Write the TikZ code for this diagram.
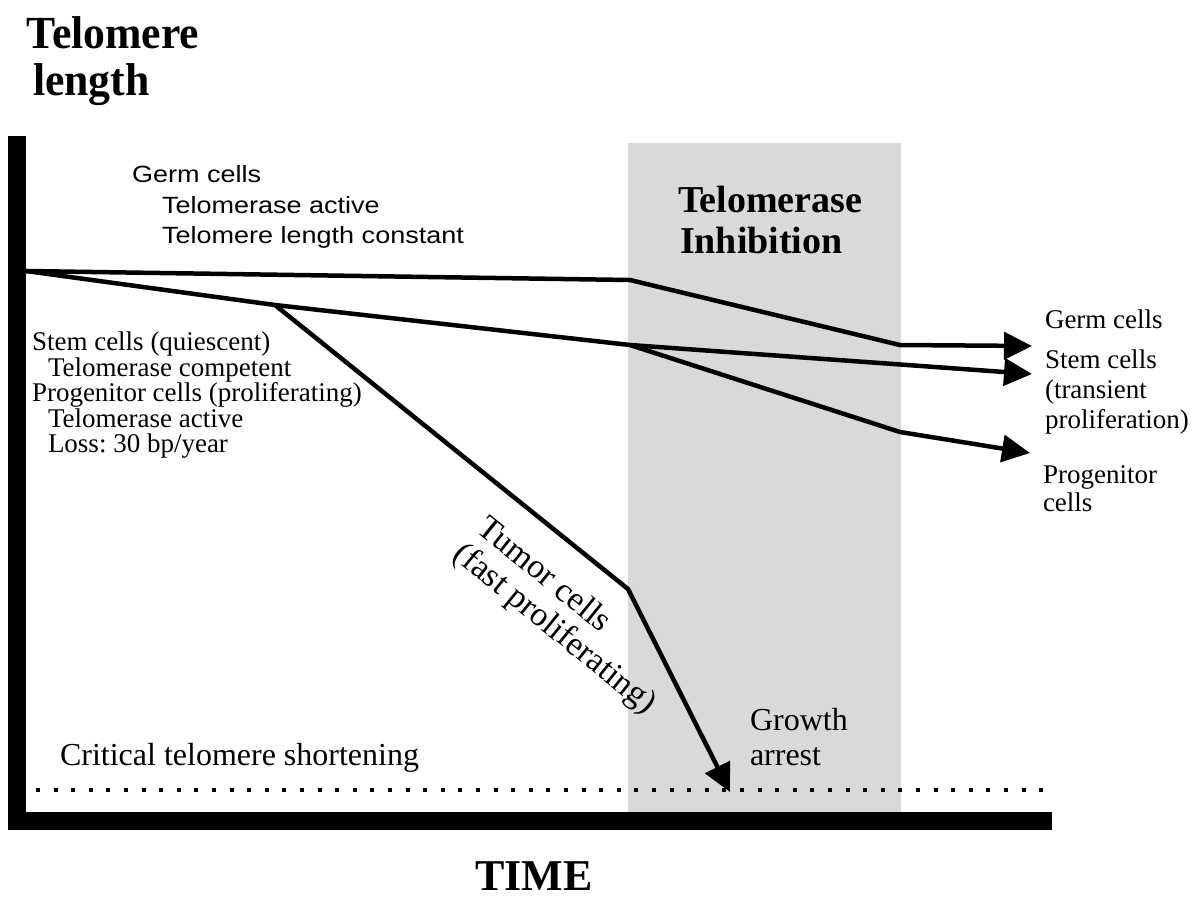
\documentclass[tikz,border=0pt]{standalone}
\usepackage{fontspec}
\setmainfont{Liberation Serif}
\newfontfamily\sansfnt[FakeStretch=1.15]{Liberation Sans}
\newfontfamily\headfnt[FakeStretch=0.95]{Liberation Serif}
\usetikzlibrary{arrows.meta}
\frenchspacing

\begin{document}
\begin{tikzpicture}[x=1pt,y=-1pt,
  curve/.style={line width=4.5pt, line join=round},
  arrowed/.style={curve, -{Triangle[length=28pt,width=27pt]}},
  txt/.style={anchor=base west, inner sep=0pt, outer sep=0pt},
  serif/.style={txt, font=\fontsize{27}{27}\selectfont},
  bigserif/.style={txt, font=\fontsize{32}{32}\selectfont},
  tumorfont/.style={inner sep=0pt, outer sep=0pt, rotate=-39, align=left,
                    font=\fontsize{34}{35}\selectfont},
  sans/.style={txt, font=\sansfnt\fontsize{23.5}{24}\selectfont},
  head/.style={txt, font=\bfseries\fontsize{38}{38}\selectfont},
  axistitle/.style={txt, font=\headfnt\bfseries\fontsize{46}{46}\selectfont},
]
\useasboundingbox (0,0) rectangle (1195,898);

% shaded treatment window
\fill[black!15] (628,143) rectangle (901,815);

% critical length threshold
\coordinate (dotL) at (36,790);
\coordinate (dotR) at (1050,790);
\draw[line width=4pt, dash pattern=on 4pt off 13.6pt] (dotL) -- (dotR);

% axes
\fill (8,136) rectangle (26,830);
\fill (8,812) rectangle (1052,830);

% branch points of the telomere curves
\coordinate (orig) at (26,271);
\coordinate (g1) at (630,280);
\coordinate (g2) at (900,345);
\coordinate (gEnd) at (1032,346);
\coordinate (s1) at (275,305);
\coordinate (s2) at (630,345);
\coordinate (sEnd) at (1032,374);
\coordinate (p1) at (900,432);
\coordinate (pEnd) at (1030,453);
\coordinate (t1) at (628,589);
\coordinate (tEnd) at (730,792);

\draw[arrowed] (orig) -- (g1) -- (g2) -- (gEnd);
\draw[curve] (orig) -- (s1) -- (s2);
\draw[arrowed] (s2) -- (sEnd);
\draw[arrowed] (s2) -- (p1) -- (pEnd);
\draw[arrowed] (s1) -- (t1) -- (tEnd);

% axis titles
\node[axistitle] (ylab1) at (27,48) {Telomere};
\node[axistitle] (ylab2) at (33,95) {length};
\node[head, font=\bfseries\fontsize{44}{44}\selectfont] (xlab) at (475,890) {TIME};

% window title
\node[head] (inh1) at (678,212) {Telomerase};
\node[head] (inh2) at (680,253) {Inhibition};

% germ line description
\node[sans] (germA) at (132,182) {Germ cells};
\node[sans] (germB) at (162,213) {Telomerase active};
\node[sans] (germC) at (162,243) {Telomere length constant};

% stem / progenitor description
\node[serif] (stemA) at (32,350) {Stem cells (quiescent)};
\node[serif] (stemB) at (48,376) {Telomerase competent};
\node[serif] (progA) at (32,401) {Progenitor cells (proliferating)};
\node[serif] (progB) at (48,427) {Telomerase active};
\node[serif] (progC) at (48,452) {Loss: 30 bp/year};

% end labels
\node[serif] (endG) at (1045,328) {Germ cells};
\node[serif] (endS1) at (1045,368) {Stem cells};
\node[serif] (endS2) at (1045,398) {(transient};
\node[serif] (endS3) at (1045,428) {proliferation)};
\node[serif] (endP1) at (1043,483) {Progenitor};
\node[serif] (endP2) at (1043,511) {cells};

% tumour branch
\node[tumorfont] (tum) at (565,616) {\hspace*{2pt}Tumor cells\\(fast proliferating)};

\node[bigserif] (arr1) at (750,730) {Growth};
\node[bigserif] (arr2) at (750,765) {arrest};

\node[bigserif] (crit) at (60,765) {Critical telomere shortening};
\end{tikzpicture}
\end{document}
